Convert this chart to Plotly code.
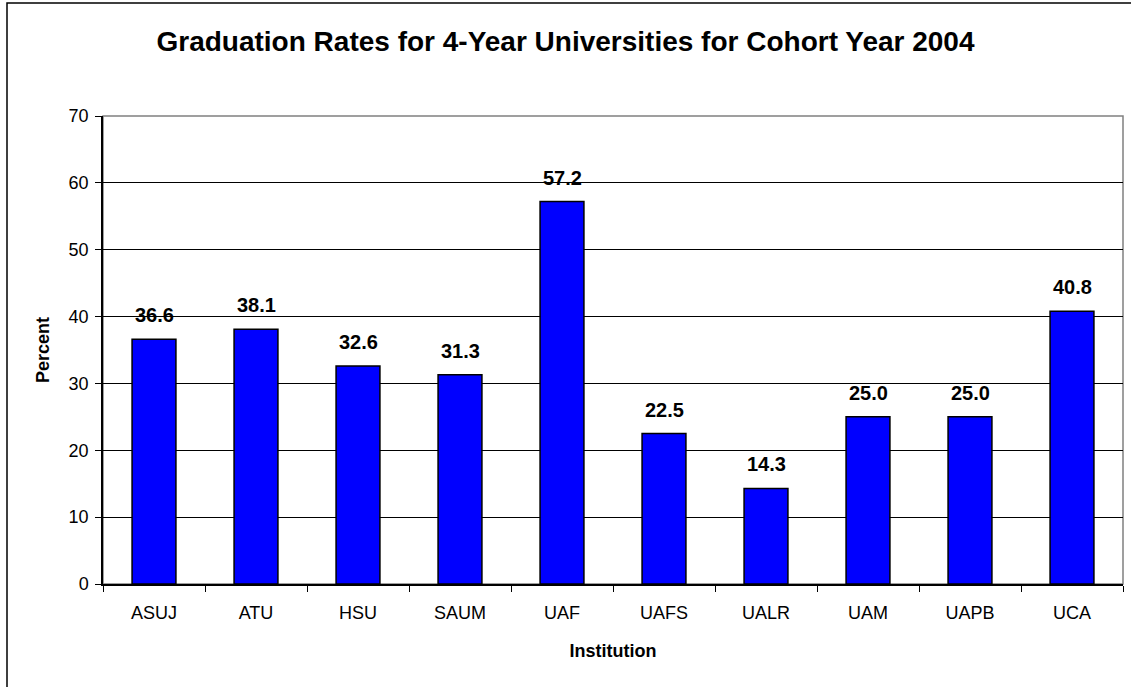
import plotly.graph_objects as go

institutions = ["ASUJ", "ATU", "HSU", "SAUM", "UAF", "UAFS", "UALR", "UAM", "UAPB", "UCA"]
grad_rates = [36.6, 38.1, 32.6, 31.3, 57.2, 22.5, 14.3, 25.0, 25.0, 40.8]
y_ticks = [0, 10, 20, 30, 40, 50, 60, 70]

FONT = "Arial, 'Liberation Sans', sans-serif"

# plot area in pixels: left 103, right 1123, top 116, bottom 584
W, H = 1131, 687
L, R, T, B = 103, 8, 116, 103
pw, ph = W - L - R, H - T - B


def px_x(x):
    return (x - L) / pw


def px_y(y):
    return (H - B - y) / ph


fig = go.Figure()

fig.add_trace(go.Bar(
    x=institutions,
    y=grad_rates,
    marker=dict(color="#0000FF", line=dict(color="black", width=1.5)),
    hovertemplate="%{x}: %{y:.1f}<extra></extra>",
))

# value labels sit a bit higher above the bars than plotly's outside text
for name, val in zip(institutions, grad_rates):
    fig.add_annotation(
        x=name, y=val, text=f"<b>{val:.1f}</b>",
        showarrow=False, yanchor="bottom", yshift=11,
        font=dict(family=FONT, size=20, color="black"),
    )

fig.update_layout(
    width=W,
    height=H,
    margin=dict(l=L, r=R, t=T, b=B),
    paper_bgcolor="white",
    plot_bgcolor="white",
    showlegend=False,
    bargap=0.57,
    font=dict(family=FONT, color="black"),
    title=dict(
        text="<b>Graduation Rates for 4-Year Universities for Cohort Year 2004</b>",
        font=dict(family=FONT, size=28, color="black"),
        x=0.5,
        xanchor="center",
        y=1 - 41 / H,
        yanchor="middle",
    ),
    shapes=[
        # outer chart border
        dict(type="rect", xref="paper", yref="paper",
             x0=px_x(7), x1=px_x(W + 10), y0=px_y(H + 10), y1=px_y(3),
             line=dict(color="black", width=1.5), layer="below"),
        # plot area border
        dict(type="rect", xref="paper", yref="paper",
             x0=0, x1=1, y0=0, y1=1,
             line=dict(color="#808080", width=1.5), layer="below"),
    ],
)

fig.update_xaxes(
    type="category",
    showline=True,
    linecolor="black",
    linewidth=1.5,
    ticks="outside",
    tickson="boundaries",
    ticklen=6,
    tickcolor="black",
    ticklabelstandoff=12,
    tickfont=dict(family=FONT, size=18, color="black"),
    showgrid=False,
    title=dict(text="<b>Institution</b>", font=dict(family=FONT, size=18, color="black"), standoff=22),
)

fig.update_yaxes(
    range=[0, 70],
    tickvals=y_ticks,
    showline=True,
    linecolor="black",
    linewidth=1.5,
    ticks="outside",
    ticklen=6,
    tickcolor="black",
    ticklabelstandoff=3,
    tickfont=dict(family=FONT, size=18, color="black"),
    showgrid=True,
    gridcolor="black",
    gridwidth=1,
    zeroline=False,
    title=dict(text="<b>Percent</b>", font=dict(family=FONT, size=18, color="black"), standoff=14),
)

# drop the browser's default body margin so the figure sits at the page corner
fig.write_html(
    "out.html",
    config={"displayModeBar": False},
    post_script="document.body.style.margin='0';",
)
